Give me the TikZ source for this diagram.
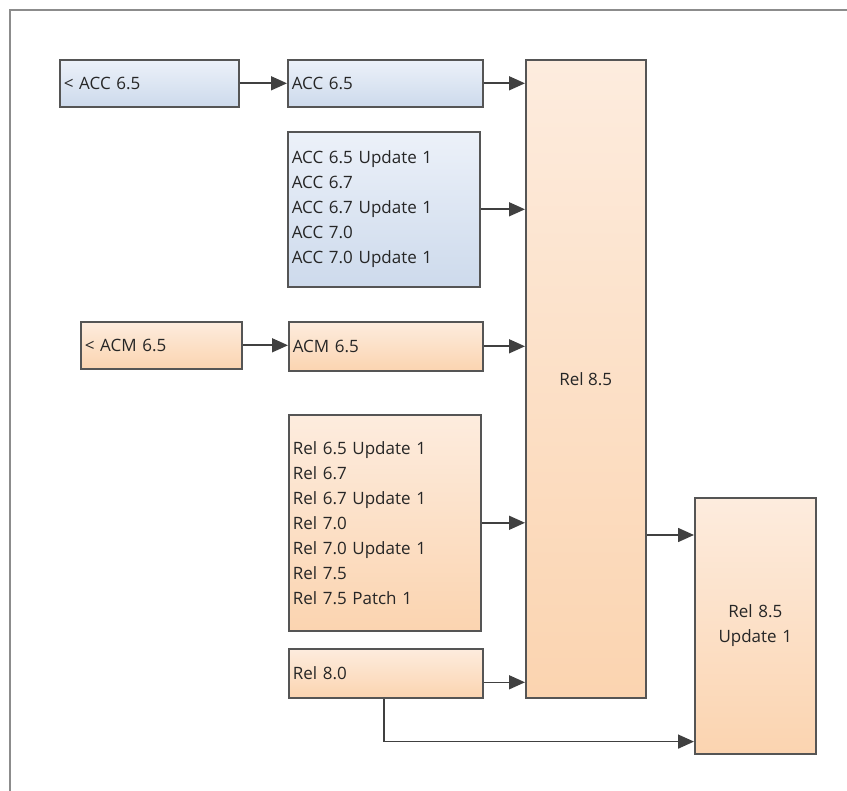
\documentclass[tikz,border=0pt]{standalone}
\usepackage{fontspec}
\setmainfont{Open Sans}
\usetikzlibrary{arrows.meta}
\definecolor{framecolor}{RGB}{140,140,140}
\definecolor{edgecolor}{RGB}{85,85,85}
\definecolor{arrowcolor}{RGB}{64,64,64}
\definecolor{blueup}{RGB}{236,241,249}
\definecolor{bluedown}{RGB}{205,218,236}
\definecolor{orangeup}{RGB}{253,236,222}
\definecolor{orangedown}{RGB}{251,212,176}
\tikzset{
  relbox/.style={draw=edgecolor,line width=1.6pt,anchor=north west,inner sep=4pt,
    font=\fontsize{17}{25}\selectfont,text=black!85},
  accbox/.style={relbox,top color=blueup,bottom color=bluedown},
  rmbox/.style={relbox,top color=orangeup,bottom color=orangedown},
  flow/.style={draw=arrowcolor,line width=1.6pt,-{Triangle[length=16pt,width=14pt]}}
}
\begin{document}
\begin{tikzpicture}[x=1pt,y=-1pt]
\useasboundingbox (0,0) rectangle (847,791);
\draw [framecolor,line width=1.8pt] (10,791) -- (10,10) -- (847,10);
% left column
\node [accbox,minimum width=179pt,minimum height=47pt,text width=171pt,align=left] (oldacc) at (59,59) {< ACC 6.5};
\node [rmbox,minimum width=161pt,minimum height=47pt,text width=153pt,align=left] (oldacm) at (80,321) {< ACM 6.5};
% middle column
\node [accbox,minimum width=195pt,minimum height=47pt,text width=187pt,align=left] (acc) at (287,59) {ACC 6.5};
\node [accbox,minimum width=192pt,minimum height=155pt,text width=184pt,align=left] (acclist) at (287,131)
  {ACC 6.5 Update 1\\ACC 6.7\\ACC 6.7 Update 1\\ACC 7.0\\ACC 7.0 Update 1};
\node [rmbox,minimum width=194pt,minimum height=49pt,text width=186pt,align=left] (acm) at (288,321) {ACM 6.5};
\node [rmbox,minimum width=192pt,minimum height=216pt,text width=184pt,align=left] (rellist) at (288,414)
  {Rel 6.5 Update 1\\Rel 6.7\\Rel 6.7 Update 1\\Rel 7.0\\Rel 7.0 Update 1\\Rel 7.5\\Rel 7.5 Patch 1};
\node [rmbox,minimum width=194pt,minimum height=49pt,text width=186pt,align=left] (rel80) at (288,648) {Rel 8.0};
% targets
\node [rmbox,minimum width=120pt,minimum height=638pt,align=center] (rel85) at (525,59) {Rel 8.5};
\node [rmbox,minimum width=121pt,minimum height=256pt,align=center,text width=100pt] (upd) at (694,497) {Rel 8.5\\Update 1};
\coordinate (updin) at ([yshift=-38pt]upd.north west);
\coordinate (updlow) at ([yshift=13pt]upd.south west);
\coordinate (rel80out) at ([yshift=-9pt]rel80.east);
% connectors
\draw [flow] (oldacc.east) -- (acc.west);
\draw [flow] (oldacm.east) -- (oldacm.east -| acm.west);
\draw [flow] (acc.east) -- (acc.east -| rel85.west);
\draw [flow] (acclist.east) -- (acclist.east -| rel85.west);
\draw [flow] (acm.east) -- (acm.east -| rel85.west);
\draw [flow] (rellist.east) -- (rellist.east -| rel85.west);
\draw [flow] (rel80out) -- (rel80out -| rel85.west);
\draw [flow] (updin -| rel85.east) -- (updin);
\draw [flow] ([xshift=-2pt]rel80.south) |- (updlow);
\end{tikzpicture}
\end{document}
